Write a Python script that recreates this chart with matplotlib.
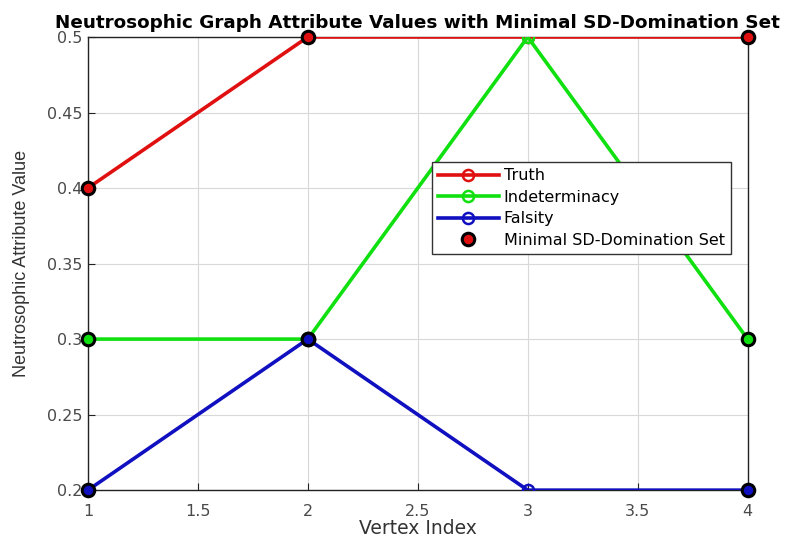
import matplotlib
matplotlib.use("Agg")
import matplotlib.pyplot as plt
from matplotlib.lines import Line2D

vertices = [1, 2, 3, 4]
truth = [0.4, 0.5, 0.5, 0.5]
indeterminacy = [0.3, 0.3, 0.5, 0.3]
falsity = [0.2, 0.3, 0.2, 0.2]
domination_set = [1, 2, 4]

series = [
    ("Truth", truth, "#e01010"),
    ("Indeterminacy", indeterminacy, "#10e010"),
    ("Falsity", falsity, "#1010c0"),
]

# horizontal text in the reference is wide, DejaVu comes close
plt.rcParams['font.family'] = ['DejaVu Sans']

fig = plt.figure(figsize=(7.92, 5.44), dpi=100)
ax = fig.add_axes([0.111, 0.099, 0.833, 0.833])

handles = []
for name, vals, col in series:
    h, = ax.plot(vertices, vals, '-o', color=col, lw=2.6, ms=8,
                 mfc='none', mec=col, mew=1.8, label=name, zorder=3)
    handles.append(h)

# domination set markers, filled with the colour of each series
for name, vals, col in series:
    xs = [v for v in vertices if v in domination_set]
    ys = [vals[vertices.index(v)] for v in xs]
    ax.plot(xs, ys, 'o', ls='none', ms=9, mfc=col, mec='black', mew=2.2,
            zorder=4, clip_on=False)

handles.append(Line2D([], [], marker='o', ls='none', ms=9, mfc='#e01010',
                      mec='black', mew=2.2))
labels = ["Truth", "Indeterminacy", "Falsity", "Minimal SD-Domination Set"]

ax.set_xlim(1, 4)
ax.set_ylim(0.2, 0.5)
ax.set_xticks([1, 1.5, 2, 2.5, 3, 3.5, 4])
ax.set_xticklabels(["1", "1.5", "2", "2.5", "3", "3.5", "4"])
ax.set_yticks([0.2, 0.25, 0.3, 0.35, 0.4, 0.45, 0.5])
ax.set_yticklabels(["0.2", "0.25", "0.3", "0.35", "0.4", "0.45", "0.5"])
ax.tick_params(direction='in', length=5, labelsize=11.5, colors='#222222',
               labelcolor='#4a4a4a')
ax.tick_params(axis='x', pad=10)
ax.tick_params(axis='y', pad=4)
ax.grid(True, color='#d8d8d8', lw=0.8)
ax.set_axisbelow(True)
for sp in ax.spines.values():
    sp.set_color('#222222')
    sp.set_linewidth(1.0)

ax.set_xlabel("Vertex Index", fontsize=13.5, color='#333333', labelpad=0)
ax.set_ylabel("Neutrosophic Attribute Value", fontsize=13, color='#333333',
              labelpad=12, family='Liberation Sans')
ax.set_title("Neutrosophic Graph Attribute Values with Minimal SD-Domination Set",
             fontsize=13.2, fontweight='bold', pad=6.5)

leg = ax.legend(handles, labels, loc='upper left', bbox_to_anchor=(0.521, 0.724),
                borderaxespad=0, fontsize=11.5, frameon=True, fancybox=False,
                framealpha=1, edgecolor='#333333', handlelength=3.8,
                borderpad=0.4, labelspacing=0.4, handletextpad=0.3)
leg.get_frame().set_linewidth(1.0)

fig.savefig("out.png", dpi=100)
